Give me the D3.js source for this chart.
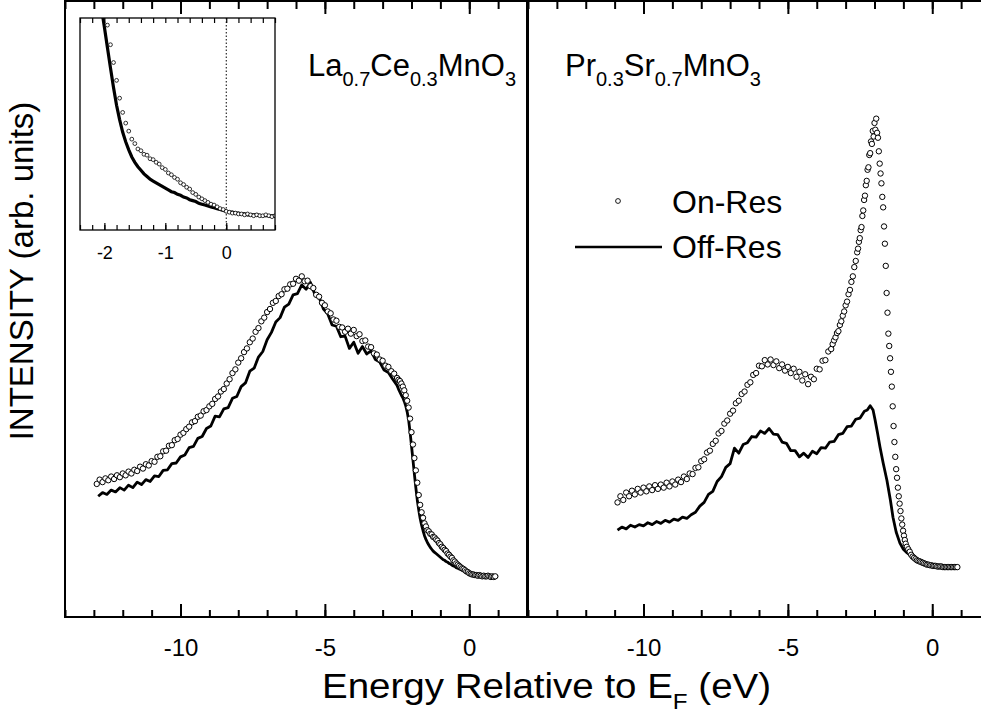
<!DOCTYPE html>
<html>
<head>
<meta charset="utf-8">
<script src="https://cdn.jsdelivr.net/npm/d3@7"></script>
<style>
  body { margin: 0; background: #fff; }
  svg { display: block; font-family: "Liberation Sans", Arial, Helvetica, sans-serif; }
</style>
</head>
<body>
<svg id="chart" width="981" height="716"></svg>
<script>
// energy (eV), intensity (arb. units)
const laOnRes = [
  [-12.9,21.6],[-12.8,22.3],[-12.7,21.9],[-12.6,22.5],[-12.5,22.2],[-12.4,22.8],[-12.3,22.4],[-12.2,23.0],
  [-12.1,22.7],[-12.0,23.3],[-11.9,23.0],[-11.8,23.6],[-11.7,23.3],[-11.6,23.9],[-11.5,23.7],[-11.4,24.4],
  [-11.3,24.1],[-11.2,24.8],[-11.1,24.6],[-11.0,25.3],[-10.9,25.2],[-10.8,26.0],[-10.7,26.1],[-10.6,26.9],
  [-10.5,27.0],[-10.4,27.8],[-10.3,27.9],[-10.2,28.7],[-10.1,28.9],[-10.0,29.6],[-9.9,29.9],[-9.8,30.5],
  [-9.7,30.9],[-9.6,31.6],[-9.5,31.8],[-9.4,32.5],[-9.3,32.7],[-9.2,33.4],[-9.1,33.6],[-9.0,34.2],
  [-8.9,34.6],[-8.8,35.4],[-8.7,35.8],[-8.6,36.6],[-8.5,37.0],[-8.4,37.9],[-8.3,38.6],[-8.2,39.6],
  [-8.1,40.2],[-8.0,41.3],[-7.9,42.0],[-7.8,43.0],[-7.7,43.6],[-7.6,44.6],[-7.5,45.2],[-7.4,46.3],
  [-7.3,46.9],[-7.2,48.0],[-7.1,48.6],[-7.0,49.5],[-6.9,50.0],[-6.8,51.0],[-6.7,51.3],[-6.6,52.1],
  [-6.5,52.4],[-6.4,53.2],[-6.3,53.3],[-6.2,54.0],[-6.1,54.1],[-6.0,54.9],[-5.9,54.6],[-5.8,55.3],
  [-5.7,54.5],[-5.6,54.6],[-5.5,53.7],[-5.4,53.4],[-5.3,52.3],[-5.2,52.0],[-5.1,51.0],[-5.0,50.6],
  [-4.9,49.6],[-4.8,49.3],[-4.7,48.3],[-4.6,48.1],[-4.5,47.1],[-4.4,47.0],[-4.3,46.3],[-4.2,46.8],
  [-4.1,46.0],[-4.0,46.6],[-3.9,45.6],[-3.8,45.9],[-3.7,44.8],[-3.6,44.9],[-3.5,43.9],[-3.4,43.8],
  [-3.3,42.8],[-3.2,42.6],[-3.1,41.8],[-3.0,41.6],[-2.9,40.8],[-2.8,40.6],[-2.7,39.9],[-2.6,39.5],
  [-2.5,38.8],[-2.45,38.5],[-2.40,38.3],[-2.35,37.9],[-2.30,37.4],[-2.25,36.8],[-2.20,36.0],[-2.15,35.1],
  [-2.10,34.0],[-2.05,32.2],[-2.00,30.0],[-1.95,28.0],[-1.90,25.8],[-1.85,23.8],[-1.80,21.8],[-1.75,19.8],
  [-1.70,18.2],[-1.65,17.0],[-1.60,16.1],[-1.55,15.2],[-1.50,14.7],[-1.45,14.1],[-1.40,13.9],[-1.35,13.5],
  [-1.30,13.4],[-1.25,13.0],[-1.20,12.9],[-1.15,12.6],[-1.10,12.4],[-1.05,12.0],[-1.00,11.8],[-0.95,11.4],
  [-0.90,11.2],[-0.85,10.9],[-0.80,10.7],[-0.75,10.3],[-0.70,10.1],[-0.65,9.8],[-0.60,9.6],[-0.55,9.2],
  [-0.50,9.0],[-0.45,8.7],[-0.40,8.5],[-0.35,8.3],[-0.30,8.1],[-0.25,7.9],[-0.20,7.8],[-0.15,7.6],
  [-0.10,7.4],[-0.05,7.3],[0.00,7.1],[0.05,7.0],[0.10,6.9],[0.15,6.9],[0.20,6.8],[0.25,6.8],
  [0.30,6.7],[0.35,6.8],[0.40,6.7],[0.45,6.6],[0.50,6.7],[0.55,6.6],[0.60,6.6],[0.65,6.7],
  [0.70,6.6],[0.75,6.5],[0.80,6.6],[0.85,6.5],[0.90,6.6]
];

const laOffRes = [
  [-12.85,19.6],[-12.70,20.2],[-12.55,19.9],[-12.40,20.6],[-12.25,20.3],[-12.10,21.0],[-11.95,20.6],
  [-11.80,21.4],[-11.65,21.0],[-11.50,21.9],[-11.35,21.5],[-11.20,22.3],[-11.05,22.0],[-10.90,22.9],
  [-10.75,22.8],[-10.60,23.8],[-10.45,23.9],[-10.30,24.9],[-10.15,25.0],[-10.00,26.0],[-9.85,26.3],
  [-9.70,27.5],[-9.55,27.7],[-9.40,29.0],[-9.25,29.3],[-9.10,30.6],[-8.95,31.0],[-8.80,32.6],
  [-8.65,32.5],[-8.50,33.8],[-8.35,34.0],[-8.20,35.5],[-8.05,35.8],[-7.90,37.4],[-7.75,38.0],
  [-7.60,39.9],[-7.45,40.4],[-7.30,42.2],[-7.15,43.1],[-7.00,45.0],[-6.85,46.2],[-6.70,47.9],
  [-6.55,48.6],[-6.40,50.3],[-6.25,50.8],[-6.10,52.3],[-5.95,52.5],[-5.80,53.9],[-5.65,53.2],
  [-5.50,54.3],[-5.35,52.4],[-5.20,51.9],[-5.05,50.0],[-4.90,49.2],[-4.75,47.4],[-4.60,47.2],
  [-4.45,45.5],[-4.30,45.6],[-4.15,43.6],[-4.00,44.6],[-3.85,42.8],[-3.70,43.9],[-3.55,42.7],
  [-3.40,43.2],[-3.25,41.8],[-3.10,41.4],[-2.95,40.1],[-2.80,39.7],[-2.65,38.6],[-2.50,37.6],
  [-2.45,37.0],[-2.40,36.5],[-2.35,36.0],[-2.30,35.6],[-2.25,35.0],[-2.20,34.3],[-2.15,33.3],
  [-2.10,32.0],[-2.05,30.0],[-2.00,27.8],[-1.95,25.5],[-1.90,23.2],[-1.85,21.0],[-1.80,19.0],
  [-1.75,17.4],[-1.70,16.0],[-1.65,14.9],[-1.60,14.0],[-1.55,13.2],[-1.50,12.6],[-1.45,12.1],
  [-1.40,11.7],[-1.35,11.3],[-1.30,11.0],[-1.25,10.7],[-1.20,10.5],[-1.15,10.3],[-1.10,10.1],
  [-1.05,9.9],[-1.00,9.7],[-0.95,9.5],[-0.90,9.3],[-0.85,9.2],[-0.80,9.0],[-0.75,8.9],[-0.70,8.7],
  [-0.65,8.6],[-0.60,8.4],[-0.55,8.3],[-0.50,8.2],[-0.45,8.0],[-0.40,7.9],[-0.35,7.8],[-0.30,7.7],
  [-0.25,7.6],[-0.20,7.5],[-0.15,7.4],[-0.10,7.3],[-0.05,7.2],[0.00,7.1],[0.05,7.0],[0.10,7.0],
  [0.15,6.9],[0.20,6.9],[0.25,6.8],[0.30,6.8],[0.35,6.7],[0.40,6.7],[0.50,6.7],[0.60,6.6],
  [0.70,6.6],[0.80,6.6],[0.90,6.6],[1.00,6.6]
];

const prOnRes = [
  [-10.9,18.6],[-10.8,19.6],[-10.7,19.0],[-10.6,20.2],[-10.5,19.6],[-10.4,20.5],[-10.3,19.9],[-10.2,20.8],
  [-10.1,20.2],[-10.0,21.0],[-9.9,20.4],[-9.8,21.2],[-9.7,20.6],[-9.6,21.4],[-9.5,20.8],[-9.4,21.5],
  [-9.3,21.0],[-9.2,21.8],[-9.1,21.2],[-9.0,22.0],[-8.9,21.5],[-8.8,22.3],[-8.7,21.9],[-8.6,22.8],
  [-8.5,22.4],[-8.4,23.3],[-8.3,23.2],[-8.2,24.2],[-8.1,24.3],[-8.0,25.3],[-7.9,25.6],[-7.8,26.7],
  [-7.7,27.0],[-7.6,28.1],[-7.5,28.6],[-7.4,29.8],[-7.3,30.2],[-7.2,31.4],[-7.1,31.9],[-7.0,33.0],
  [-6.9,33.5],[-6.8,34.7],[-6.7,35.1],[-6.6,36.2],[-6.5,36.6],[-6.4,37.7],[-6.3,38.1],[-6.2,39.3],
  [-6.1,39.6],[-6.0,40.8],[-5.9,40.7],[-5.8,41.7],[-5.7,41.0],[-5.6,41.8],[-5.5,40.9],[-5.4,41.5],
  [-5.3,40.4],[-5.2,41.0],[-5.1,40.0],[-5.0,40.6],[-4.9,39.6],[-4.8,40.3],[-4.7,39.0],[-4.6,39.8],
  [-4.5,38.4],[-4.4,39.4],[-4.3,37.8],[-4.2,39.0],[-4.1,38.6],[-4.0,40.3],[-3.9,40.2],[-3.8,41.6],
  [-3.7,41.7],[-3.6,43.1],[-3.5,43.5],[-3.45,44.3],[-3.40,44.9],[-3.35,45.4],[-3.30,46.1],[-3.25,46.4],
  [-3.20,47.4],[-3.15,48.0],[-3.10,48.9],[-3.05,49.6],[-3.00,50.6],[-2.95,51.2],[-2.90,52.4],[-2.85,53.1],
  [-2.80,54.4],[-2.75,55.3],[-2.70,56.8],[-2.65,57.8],[-2.60,59.2],[-2.57,59.8],[-2.54,60.9],[-2.51,61.5],
  [-2.48,62.8],[-2.45,63.3],[-2.42,65.1],[-2.39,66.0],[-2.36,67.7],[-2.33,68.4],[-2.30,70.1],[-2.27,70.8],
  [-2.24,72.6],[-2.21,73.0],[-2.18,75.0],[-2.15,75.3],[-2.12,77.2],[-2.09,76.8],[-2.06,78.9],[-2.03,78.0],
  [-2.00,80.2],[-1.97,79.1],[-1.94,80.9],[-1.91,78.6],[-1.88,77.8],[-1.85,75.6],[-1.82,73.6],[-1.79,72.0],
  [-1.76,70.4],[-1.73,68.2],[-1.70,66.5],[-1.67,63.4],[-1.64,60.6],[-1.61,57.0],[-1.58,52.6],[-1.55,49.4],
  [-1.52,46.0],[-1.49,44.0],[-1.46,42.0],[-1.43,39.8],[-1.40,37.4],[-1.37,34.2],[-1.34,31.0],[-1.31,28.4],
  [-1.28,26.0],[-1.25,24.0],[-1.22,22.6],[-1.19,21.0],[-1.16,19.6],[-1.13,18.4],[-1.10,17.2],[-1.07,16.0],
  [-1.04,15.0],[-1.01,14.0],[-0.98,13.2],[-0.95,12.5],[-0.92,11.9],[-0.88,11.4],[-0.83,11.0],[-0.78,10.6],
  [-0.73,10.1],[-0.68,9.8],[-0.63,9.6],[-0.58,9.4],[-0.53,9.2],[-0.48,9.1],[-0.43,9.0],[-0.38,8.9],
  [-0.33,8.8],[-0.28,8.7],[-0.23,8.6],[-0.18,8.5],[-0.13,8.5],[-0.08,8.4],[-0.03,8.4],[0.02,8.3],
  [0.07,8.3],[0.12,8.3],[0.17,8.2],[0.22,8.2],[0.27,8.2],[0.32,8.2],[0.37,8.1],[0.42,8.1],
  [0.47,8.1],[0.52,8.1],[0.57,8.1],[0.62,8.1],[0.67,8.1],[0.72,8.1],[0.77,8.1],[0.82,8.1],[0.87,8.1]
];

const prOffRes = [
  [-10.90,14.1],[-10.75,14.6],[-10.60,14.3],[-10.45,14.9],[-10.30,14.6],[-10.15,15.0],[-10.00,14.8],
  [-9.85,15.3],[-9.70,15.0],[-9.55,15.5],[-9.40,15.2],[-9.25,15.7],[-9.10,15.4],[-8.95,15.9],
  [-8.80,15.7],[-8.65,16.2],[-8.50,16.0],[-8.35,16.6],[-8.20,17.0],[-8.05,18.0],[-7.90,18.6],
  [-7.75,19.9],[-7.60,20.4],[-7.45,22.0],[-7.30,22.8],[-7.15,24.3],[-7.00,24.9],[-6.85,27.4],
  [-6.70,26.6],[-6.55,28.0],[-6.40,28.3],[-6.25,29.3],[-6.10,29.2],[-5.95,30.2],[-5.80,29.8],
  [-5.65,30.6],[-5.50,29.7],[-5.35,29.6],[-5.20,28.4],[-5.05,28.2],[-4.90,27.0],[-4.75,27.0],
  [-4.60,26.0],[-4.45,26.6],[-4.30,25.9],[-4.15,26.9],[-4.00,26.5],[-3.85,27.5],[-3.70,27.4],
  [-3.55,28.4],[-3.40,28.5],[-3.25,29.6],[-3.10,29.8],[-2.95,30.9],[-2.80,31.0],[-2.65,32.1],
  [-2.50,32.3],[-2.35,33.4],[-2.25,33.6],[-2.15,34.3],[-2.05,33.6],[-1.98,32.0],[-1.90,30.0],
  [-1.81,27.6],[-1.70,25.0],[-1.57,22.2],[-1.45,19.0],[-1.36,16.2],[-1.25,13.8],[-1.12,12.0],
  [-1.00,11.0],[-0.87,10.4],[-0.70,9.8],[-0.55,9.5],[-0.42,9.3],[-0.25,8.9],[-0.10,8.6],
  [0.05,8.4],[0.20,8.3],[0.40,8.2],[0.60,8.1],[0.86,8.1]
];

const mainMajorTicks = [-10, -5, 0];
const insetLabelTicks = [-2, -1, 0];
const legendLabels = ["On-Res", "Off-Res"];

const svg = d3.select("#chart");

// main scales
const y = d3.scaleLinear([0, 100], [617, 1]);
const xLa = d3.scaleLinear([-14, 2], [65, 527]);
const xPr = d3.scaleLinear([-14, 2], [528, 990]);

function drawPanel(x, onRes, offRes, clipId) {
  const g = svg.append("g");
  const [x0, x1] = x.range();
  const [yb, yt] = y.range();

  g.append("clipPath").attr("id", clipId)
    .append("rect").attr("x", x0).attr("y", yt).attr("width", x1 - x0).attr("height", yb - yt);

  const minor = d3.range(-14, 2.01, 1);

  // bottom axis, inward ticks
  g.append("g").attr("transform", `translate(0,${yb})`)
    .call(d3.axisBottom(x).tickValues(minor).tickSize(-7).tickFormat(""))
    .call(a => a.select(".domain").remove());
  g.append("g").attr("transform", `translate(0,${yb})`)
    .call(d3.axisBottom(x).tickValues(mainMajorTicks).tickSize(-13).tickPadding(22).tickFormat(d => String(d)))
    .call(a => a.select(".domain").remove())
    .call(a => a.selectAll("text").attr("font-size", 24).attr("font-family", "Liberation Sans, Arial, sans-serif").attr("fill", "#000"));

  // top axis, inward ticks
  g.append("g").attr("transform", `translate(0,${yt})`)
    .call(d3.axisTop(x).tickValues(minor).tickSize(-8).tickFormat(""))
    .call(a => a.select(".domain").remove());
  g.append("g").attr("transform", `translate(0,${yt})`)
    .call(d3.axisTop(x).tickValues(mainMajorTicks).tickSize(-13).tickFormat(""))
    .call(a => a.select(".domain").remove());

  g.selectAll(".tick line").attr("stroke", "#000").attr("stroke-width", 2);

  const line = d3.line().x(d => x(d[0])).y(d => y(d[1])).curve(d3.curveLinear);
  const data = g.append("g").attr("clip-path", `url(#${clipId})`);
  data.append("path").datum(offRes)
    .attr("d", line).attr("fill", "none").attr("stroke", "#000")
    .attr("stroke-width", 2.8).attr("stroke-linejoin", "round");
  data.append("g").selectAll("circle").data(onRes).join("circle")
    .attr("cx", d => x(d[0])).attr("cy", d => y(d[1])).attr("r", 2.7)
    .attr("fill", "#fff").attr("stroke", "#000").attr("stroke-width", 1);

  g.append("rect").attr("x", x0).attr("y", yt).attr("width", x1 - x0).attr("height", yb - yt)
    .attr("fill", "none").attr("stroke", "#000").attr("stroke-width", 2);
}

drawPanel(xLa, laOnRes, laOffRes, "clipLa");
drawPanel(xPr, prOnRes, prOffRes, "clipPr");

// inset (zoom near the Fermi edge of La0.7Ce0.3MnO3)
const xIn = d3.scaleLinear([-2.4, 0.8], [80, 275]);
const yIn = d3.scaleLinear([5.0, 28.8], [230, 18]);
{
  const g = svg.append("g");
  const [x0, x1] = xIn.range();
  const [yb, yt] = yIn.range();
  g.append("rect").attr("x", x0).attr("y", yt).attr("width", x1 - x0).attr("height", yb - yt).attr("fill", "#fff");
  g.append("clipPath").attr("id", "clipIn")
    .append("rect").attr("x", x0).attr("y", yt).attr("width", x1 - x0).attr("height", yb - yt);

  const minor = d3.ticks(-2.4, 0.8, 16);
  g.append("g").attr("transform", `translate(0,${yb})`)
    .call(d3.axisBottom(xIn).tickValues(minor).tickSize(-5).tickFormat(""))
    .call(a => a.select(".domain").remove());
  g.append("g").attr("transform", `translate(0,${yb})`)
    .call(d3.axisBottom(xIn).tickValues(insetLabelTicks).tickSize(-7).tickPadding(16).tickFormat(d => String(d)))
    .call(a => a.select(".domain").remove())
    .call(a => a.selectAll("text").attr("font-size", 18).attr("font-family", "Liberation Sans, Arial, sans-serif").attr("fill", "#000"));
  g.append("g").attr("transform", `translate(0,${yt})`)
    .call(d3.axisTop(xIn).tickValues(minor).tickSize(-5).tickFormat(""))
    .call(a => a.select(".domain").remove());
  g.selectAll(".tick line").attr("stroke", "#000").attr("stroke-width", 1.2);

  g.append("line")
    .attr("x1", xIn(0)).attr("x2", xIn(0)).attr("y1", yt).attr("y2", yb)
    .attr("stroke", "#000").attr("stroke-width", 1).attr("stroke-dasharray", "1.5,2");

  const data = g.append("g").attr("clip-path", "url(#clipIn)");
  const line = d3.line().x(d => xIn(d[0])).y(d => yIn(d[1]));
  data.append("path").datum(laOffRes.filter(d => d[0] >= -2.6))
    .attr("d", line).attr("fill", "none").attr("stroke", "#000").attr("stroke-width", 3.2);
  data.append("g").selectAll("circle").data(laOnRes.filter(d => d[0] >= -2.6)).join("circle")
    .attr("cx", d => xIn(d[0])).attr("cy", d => yIn(d[1])).attr("r", 1.9)
    .attr("fill", "#fff").attr("stroke", "#000").attr("stroke-width", 0.8);

  g.append("rect").attr("x", x0).attr("y", yt).attr("width", x1 - x0).attr("height", yb - yt)
    .attr("fill", "none").attr("stroke", "#000").attr("stroke-width", 1.3);
}

// compound labels with subscripts
function formula(x0, y0, parts) {
  const t = svg.append("text").attr("x", x0).attr("y", y0).attr("font-size", 31).attr("fill", "#000");
  let shifted = false;
  parts.forEach(([s, sub]) => {
    const ts = t.append("tspan").text(s);
    if (sub && !shifted) { ts.attr("dy", 10).attr("font-size", 20); shifted = true; }
    else if (sub) { ts.attr("font-size", 20); }
    else if (shifted) { ts.attr("dy", -10); shifted = false; }
  });
}
formula(308, 76, [["La"], ["0.7", true], ["Ce"], ["0.3", true], ["MnO"], ["3", true]]);
formula(565, 76, [["Pr"], ["0.3", true], ["Sr"], ["0.7", true], ["MnO"], ["3", true]]);

// legend
const legend = svg.append("g");
legend.append("circle").attr("cx", 618).attr("cy", 201).attr("r", 2.4)
  .attr("fill", "#fff").attr("stroke", "#000").attr("stroke-width", 0.9);
legend.append("line").attr("x1", 575).attr("x2", 662).attr("y1", 247).attr("y2", 247)
  .attr("stroke", "#000").attr("stroke-width", 2.6);
legend.selectAll("text").data(legendLabels).join("text")
  .attr("x", 672).attr("y", (d, i) => 213 + i * 45)
  .attr("font-size", 32).attr("fill", "#000").text(d => d);

// axis titles
svg.append("text")
  .attr("transform", "translate(33,271) rotate(-90)")
  .attr("text-anchor", "middle").attr("font-size", 33).attr("fill", "#000")
  .text("INTENSITY (arb. units)");

const xt = svg.append("text")
  .attr("transform", "translate(322,698) scale(1.1,1)")
  .attr("font-size", 35).attr("fill", "#000");
xt.append("tspan").text("Energy Relative to E");
xt.append("tspan").attr("dy", 11).attr("font-size", 22).text("F");
xt.append("tspan").attr("dy", -11).text(" (eV)");
</script>
</body>
</html>
